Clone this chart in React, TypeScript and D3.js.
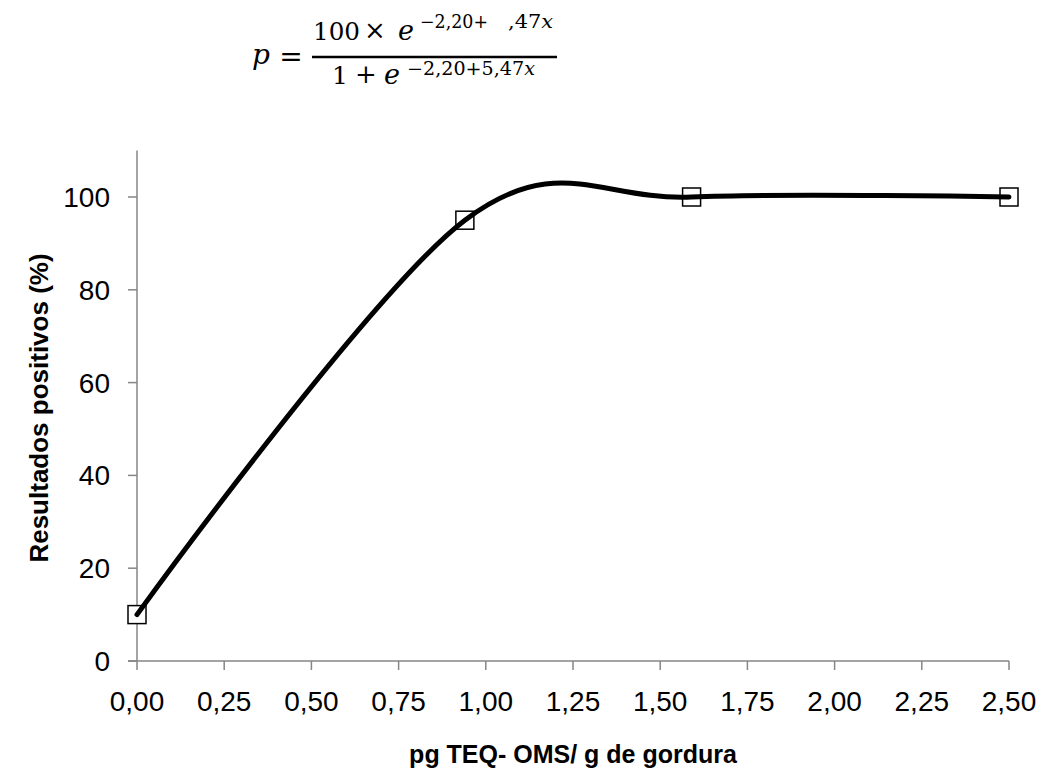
import React from "react";
import * as d3 from "d3";

const xValues = [0, 0.94, 1.59, 2.5];
const yValues = [10, 95, 100, 100];
const xTicks = [0, 0.25, 0.5, 0.75, 1, 1.25, 1.5, 1.75, 2, 2.25, 2.5];
const yTicks = [0, 20, 40, 60, 80, 100];

const W = 1040, H = 773;
const left = 137, right = 1009, top = 150.6, bottom = 661;

export default function App() {
  const x = d3.scaleLinear().domain([0, 2.5]).range([left, right]);
  const y = d3.scaleLinear().domain([0, 110]).range([bottom, top]);
  const pts = xValues.map((v, i) => [x(v), y(yValues[i])] as [number, number]);
  const line = d3.line().curve(d3.curveCardinal.tension(0))(pts) || "";
  const fmt = (v: number) => v.toFixed(2).replace(".", ",");
  const axisColor = "#868686";
  const font = "Liberation Sans, Arial, sans-serif";
  return (
    <svg width={W} height={H} style={{ position: "absolute", left: 0, top: 0, background: "#fff" }}>
      {/* formula */}
      <g fontFamily={"DejaVu Serif, Liberation Serif, serif"} fill="#000">
        <text x={252} y={64} fontSize={28} fontStyle="italic">p</text>
        <text x={291} y={66} fontSize={28} textAnchor="middle">=</text>
        <line x1={312} x2={557} y1={57} y2={57} stroke="#000" strokeWidth={2.5} />
        <text x={313} y={40} fontSize={25} textLength={47} lengthAdjust="spacingAndGlyphs">100</text>
        <text x={375} y={39} fontSize={26} textAnchor="middle">×</text>
        <text x={398} y={40} fontSize={27} fontStyle="italic">e</text>
        <text x={420} y={28} fontSize={18} textLength={68} lengthAdjust="spacingAndGlyphs">−2,20+</text>
        <text x={508} y={28} fontSize={18} textLength={45} lengthAdjust="spacingAndGlyphs">
          ,47<tspan fontStyle="italic">x</tspan>
        </text>
        <text x={332} y={84} fontSize={25}>1</text>
        <text x={366} y={83} fontSize={26} textAnchor="middle">+</text>
        <text x={384} y={84} fontSize={27} fontStyle="italic">e</text>
        <text x={407} y={75} fontSize={18} textLength={128} lengthAdjust="spacingAndGlyphs">
          −2,20+5,47<tspan fontStyle="italic">x</tspan>
        </text>
      </g>
      {/* axes */}
      <line x1={left} x2={left} y1={top} y2={bottom} stroke={axisColor} strokeWidth={1.5} />
      <line x1={left - 9} x2={right} y1={bottom} y2={bottom} stroke={axisColor} strokeWidth={1.5} />
      {yTicks.map(t => (
        <g key={"y" + t}>
          <line x1={left - 9} x2={left} y1={y(t)} y2={y(t)} stroke={axisColor} strokeWidth={1.5} />
          <text x={110} y={y(t) + 10} textAnchor="end" fontFamily={font} fontSize={28} fill="#000">{t}</text>
        </g>
      ))}
      {xTicks.map(t => (
        <g key={"x" + t}>
          <line x1={x(t)} x2={x(t)} y1={bottom} y2={bottom + 9} stroke={axisColor} strokeWidth={1.5} />
          <text x={x(t)} y={711} textAnchor="middle" fontFamily={font} fontSize={28} fill="#000">{fmt(t)}</text>
        </g>
      ))}
      <text x={573} y={763} textAnchor="middle" fontFamily={font} fontSize={25} fontWeight="bold" fill="#000">
        pg TEQ- OMS/ g de gordura
      </text>
      <text transform={`translate(48,408) rotate(-90)`} textAnchor="middle" fontFamily={font} fontSize={26} fontWeight="bold" fill="#000">
        Resultados positivos (%)
      </text>
      {/* markers */}
      {pts.map((p, i) => (
        <rect key={"m" + i} x={p[0] - 9} y={p[1] - 9} width={18} height={18} fill="#fff" stroke="#000" strokeWidth={1.5} />
      ))}
      <path d={line} fill="none" stroke="#000" strokeWidth={5} strokeLinecap="round" />
    </svg>
  );
}
